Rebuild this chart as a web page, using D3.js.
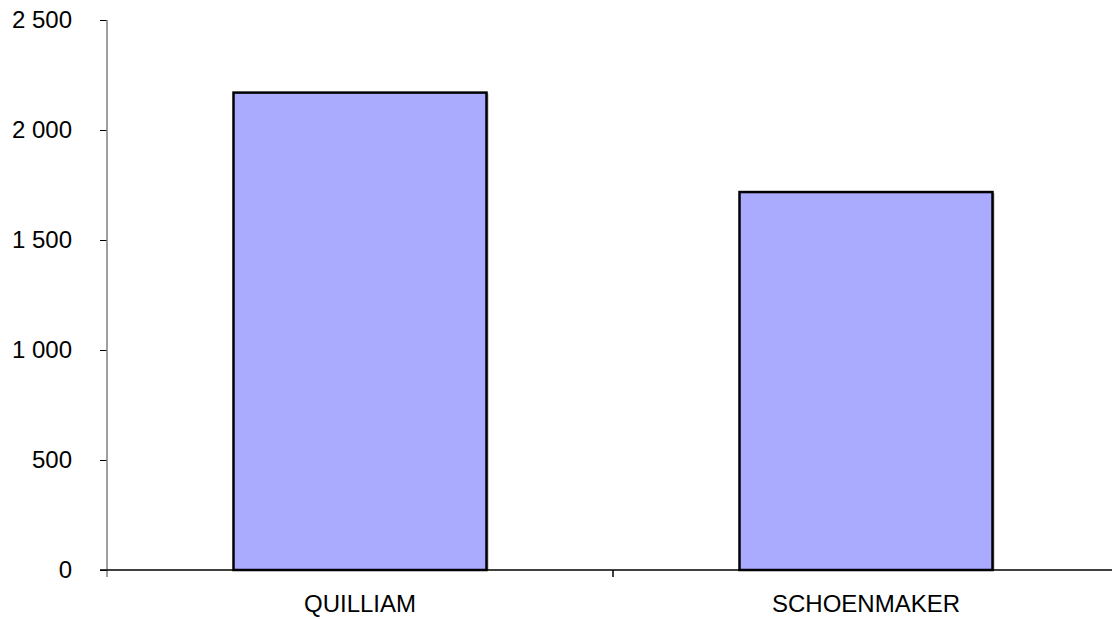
<!DOCTYPE html>
<html>
<head>
<meta charset="utf-8">
<script src="https://cdn.jsdelivr.net/npm/d3@7"></script>
<style>
  html, body { margin: 0; padding: 0; background: #fff; }
  svg { display: block; }
  text { font-family: "Liberation Sans", Arial, sans-serif; fill: #000; }
</style>
</head>
<body>
<svg id="chart" width="1112" height="619"></svg>
<script>
const categories = ["QUILLIAM", "SCHOENMAKER"];
const values = [2170, 1718];
const yTicks = [0, 500, 1000, 1500, 2000, 2500];

const svg = d3.select("#chart");
const x = d3.scaleBand().domain(categories).range([107, 1119]).paddingInner(0.5).paddingOuter(0.25);
const y = d3.scaleLinear().domain([0, 2500]).range([570, 20]);
const fmt = v => d3.format(",")(v).replace(/,/g, " ");

// bars
const bars = svg.append("g");
bars.selectAll("rect.shadow").data(categories).join("rect")
  .attr("x", d => x(d) + 2).attr("y", (d, i) => y(values[i]) + 1)
  .attr("width", x.bandwidth()).attr("height", (d, i) => y(0) - y(values[i]) - 1)
  .attr("fill", "#b0b0b0");
bars.selectAll("rect.bar").data(categories).join("rect")
  .attr("x", d => x(d)).attr("y", (d, i) => y(values[i]))
  .attr("width", x.bandwidth()).attr("height", (d, i) => y(0) - y(values[i]))
  .attr("fill", "#aaaaff").attr("stroke", "#000").attr("stroke-width", 2.5);

// y axis
const yAxis = svg.append("g").attr("transform", "translate(107,0)")
  .call(d3.axisLeft(y).tickValues(yTicks).tickSize(7).tickPadding(28).tickFormat(fmt));
yAxis.select(".domain").remove();
yAxis.selectAll(".tick line").attr("stroke", "#000");
yAxis.selectAll("text").style("font-size", "24px").attr("fill", "#000")
  .style("font-family", '"Liberation Sans", Arial, sans-serif');
svg.append("line").attr("x1", 107).attr("x2", 107).attr("y1", y(2500)).attr("y2", 577)
  .attr("stroke", "#808080").attr("stroke-width", 1.5);

// x axis
svg.append("line").attr("x1", 100).attr("x2", 1112).attr("y1", y(0)).attr("y2", y(0))
  .attr("stroke", "#000").attr("stroke-width", 1.5);
const step = x.step();
const bounds = categories.map(d => x(d) - x.paddingInner() * step / 2).slice(1);
svg.selectAll("line.xt").data(bounds).join("line")
  .attr("x1", d => d).attr("x2", d => d).attr("y1", y(0)).attr("y2", y(0) + 7)
  .attr("stroke", "#000").attr("stroke-width", 1.5);
svg.selectAll("text.xl").data(categories).join("text")
  .attr("x", d => x(d) + x.bandwidth() / 2).attr("y", 612)
  .attr("text-anchor", "middle").style("font-size", "24px").text(d => d);
</script>
</body>
</html>
